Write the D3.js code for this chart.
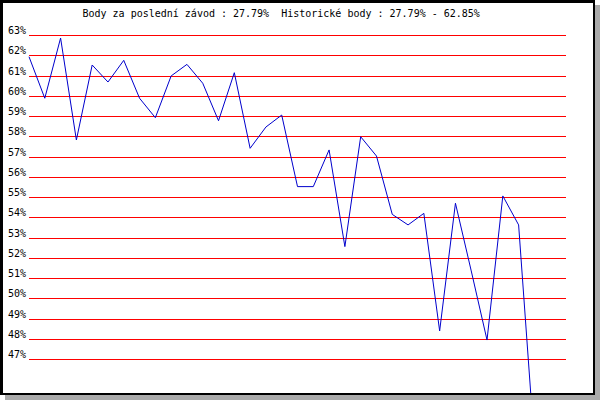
<!DOCTYPE html>
<html>
<head>
<meta charset="utf-8">
<script src="https://cdn.jsdelivr.net/npm/d3@7"></script>
<style>
  html, body { margin: 0; padding: 0; background: #fff; }
  svg { display: block; }
</style>
</head>
<body>
<svg id="chart" width="600" height="400"></svg>
<script>
// ---- data ----
const titleText = "Body za poslední závod : 27.79%  Historické body : 27.79% - 62.85%";
const raceIndex = d3.range(33);
const points = [61.93, 59.88, 62.85, 57.82, 61.52, 60.68, 61.75, 59.88, 58.92, 60.98,
                61.55, 60.62, 58.77, 61.14, 57.41, 58.46, 59.05, 55.52, 55.52, 57.33,
                52.56, 57.98, 57.03, 54.15, 53.63, 54.20, 48.40, 54.70, 51.36, 47.95,
                55.06, 53.63, 42.80];
const yTicks = d3.range(47, 64);
const xSlots = 35;

// ---- layout ----
const svg = d3.select("#chart");
const plotLeft = 29, plotRight = 566, plotTop = 35, plotBottom = 359.3;

// shadow + frame
svg.append("rect").attr("x", 5).attr("y", 5).attr("width", 595).attr("height", 395).attr("fill", "#aaaaaa");
svg.append("rect").attr("x", 0).attr("y", 0).attr("width", 595).attr("height", 395).attr("fill", "#fff");

const x = d3.scaleLinear().domain([0, xSlots - 1]).range([plotLeft, plotRight]);
const y = d3.scaleLinear().domain([47, 63]).range([plotBottom, plotTop]);

// y axis with red grid lines
const yAxis = d3.axisLeft(y)
  .tickValues(yTicks)
  .tickFormat(d => d + "%")
  .tickSizeInner(-(plotRight - plotLeft))
  .tickSizeOuter(0)
  .tickPadding(3);

const gy = svg.append("g").attr("transform", `translate(${plotLeft},0)`).call(yAxis);
gy.select(".domain").remove();
gy.selectAll(".tick line").attr("stroke", "#ff0000").attr("stroke-width", 1).attr("shape-rendering", "crispEdges");
gy.selectAll(".tick text")
  .attr("dy", -1.5)
  .attr("fill", "#000")
  .style("font-family", "'DejaVu Sans Mono', monospace")
  .style("font-size", "10px");

// clip
svg.append("clipPath").attr("id", "clip")
  .append("rect").attr("x", 0).attr("y", 0).attr("width", 595).attr("height", 395);

const line = d3.line()
  .x((d, i) => x(raceIndex[i]))
  .y(d => y(d));

svg.append("path")
  .datum(points)
  .attr("clip-path", "url(#clip)")
  .attr("d", line)
  .attr("fill", "none")
  .attr("stroke", "#0000cc")
  .attr("stroke-width", 1);

// title
svg.append("text")
  .attr("x", 82.5).attr("y", 17)
  .attr("fill", "#000")
  .style("font-family", "'DejaVu Sans Mono', monospace")
  .style("font-size", "10px")
  .attr("xml:space", "preserve")
  .style("white-space", "pre")
  .text(titleText);

// frame border on top
svg.append("path")
  .attr("d", "M0,0H595V395H0Z M3,3V393H593V3Z")
  .attr("fill", "#000")
  .attr("fill-rule", "evenodd");
</script>
</body>
</html>
